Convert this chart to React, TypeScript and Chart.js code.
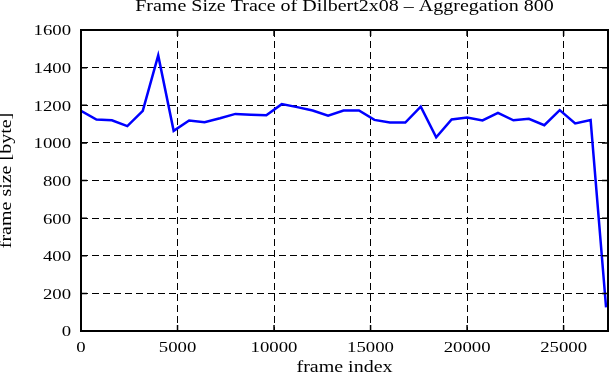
import React, { useEffect, useRef } from "react";
import { Chart, registerables } from "chart.js";

Chart.register(...registerables);

const TITLE = "Frame Size Trace of Dilbert2x08 – Aggregation 800";
const X_TITLE = "frame index";
const Y_TITLE = "frame size [byte]";

const frameIndex = [
  0, 800, 1600, 2400, 3200, 4000, 4800, 5600, 6400, 7200, 8000, 8800, 9600,
  10400, 11200, 12000, 12800, 13600, 14400, 15200, 16000, 16800, 17600, 18400,
  19200, 20000, 20800, 21600, 22400, 23200, 24000, 24800, 25600, 26400, 27200,
];
const frameSize = [
  1170, 1124, 1120, 1089, 1170, 1465, 1064, 1119, 1110, 1131, 1154, 1150, 1147,
  1206, 1190, 1172, 1144, 1172, 1172, 1122, 1108, 1108, 1193, 1030,
  1124, 1135, 1119, 1160, 1120, 1128, 1094, 1174, 1103, 1121, 126,
];
const xTicks = [0, 5000, 10000, 15000, 20000, 25000];
const yTicks = [0, 200, 400, 600, 800, 1000, 1200, 1400, 1600];
const X_MAX = 27300;

const FONT = "'Liberation Serif', 'Times New Roman', serif";
const SX = 1.25;

const framePlugin = {
  id: "frameTicks",
  afterDraw(chart: any) {
    const { ctx, chartArea: a, scales } = chart;
    const xs = scales.x;
    const ys = scales.y;
    const L = 6;
    ctx.save();
    ctx.setLineDash([]);
    ctx.strokeStyle = "#000";
    ctx.lineWidth = 1.5;
    ctx.beginPath();
    xs.ticks.forEach((t: any) => {
      const px = xs.getPixelForValue(t.value);
      ctx.moveTo(px, a.bottom);
      ctx.lineTo(px, a.bottom - L);
      ctx.moveTo(px, a.top);
      ctx.lineTo(px, a.top + L);
    });
    ys.ticks.forEach((t: any) => {
      const py = ys.getPixelForValue(t.value);
      ctx.moveTo(a.left, py);
      ctx.lineTo(a.left + L, py);
      ctx.moveTo(a.right, py);
      ctx.lineTo(a.right - L, py);
    });
    ctx.stroke();
    ctx.lineWidth = 2;
    ctx.strokeRect(a.left, a.top, a.right - a.left, a.bottom - a.top);
    ctx.restore();
  },
};

export default function App() {
  const ref = useRef<HTMLCanvasElement>(null);
  useEffect(() => {
    document.body.style.margin = "0";
    const canvas = ref.current!;
    const ctx: any = canvas.getContext("2d");
    const orig = ctx.fillText;
    ctx.fillText = function (text: string, x: number, y: number, maxWidth?: number) {
      this.save();
      this.translate(x, y);
      this.scale(SX, 1);
      if (maxWidth === undefined) orig.call(this, text, 0, 0);
      else orig.call(this, text, 0, 0, maxWidth / SX);
      this.restore();
    };
    Chart.defaults.color = "#000";
    const chart = new Chart(canvas, {
      type: "line",
      data: {
        datasets: [
          {
            data: frameIndex.map((x, i) => ({ x, y: frameSize[i] })),
            borderColor: "#0000ff",
            borderWidth: 2.5,
            pointRadius: 0,
            tension: 0,
            fill: false,
          },
        ],
      },
      options: {
        animation: false,
        responsive: false,
        devicePixelRatio: 1,
        layout: { padding: { left: 0, right: 3, top: 0, bottom: 0 } },
        plugins: {
          legend: { display: false },
          tooltip: { enabled: false },
          title: {
            display: true,
            text: TITLE,
            color: "#000",
            fullSize: false,
            font: { family: FONT, size: 16, weight: "normal", lineHeight: 14 / 16 },
            padding: { top: 0, bottom: 16 },
          },
        },
        scales: {
          x: {
            type: "linear",
            min: 0,
            max: X_MAX,
            afterBuildTicks: (s: any) => {
              s.ticks = xTicks.map((v) => ({ value: v }));
            },
            afterFit: (s: any) => {
              s.height = 49;
            },
            grid: { color: "#000", lineWidth: 1, drawTicks: false },
            border: { display: false, dash: [7, 4] },
            ticks: {
              color: "#000",
              padding: 8,
              maxRotation: 0,
              autoSkip: false,
              font: { family: FONT, size: 15 },
              callback: (v: any) => String(v),
            },
            title: {
              display: true,
              text: X_TITLE,
              color: "#000",
              font: { family: FONT, size: 16, lineHeight: 1.2 },
              padding: { top: 0, bottom: 2.5 },
            },
          },
          y: {
            type: "linear",
            min: 0,
            max: 1600,
            afterBuildTicks: (s: any) => {
              s.ticks = yTicks.map((v) => ({ value: v }));
            },
            afterFit: (s: any) => {
              s.width = 81;
            },
            grid: { color: "#000", lineWidth: 1, drawTicks: false },
            border: { display: false, dash: [7, 4] },
            ticks: {
              color: "#000",
              padding: 10,
              labelOffset: 1.5,
              autoSkip: false,
              font: { family: FONT, size: 15 },
              callback: (v: any) => String(v),
            },
            title: {
              display: true,
              text: Y_TITLE,
              color: "#000",
              font: { family: FONT, size: 16, lineHeight: 13 / 16 },
              padding: { top: 0, bottom: 0 },
            },
          },
        },
      },
      plugins: [framePlugin],
    } as any);
    return () => {
      chart.destroy();
      ctx.fillText = orig;
    };
  }, []);
  return (
    <div style={{ width: 611, height: 380 }}>
      <canvas ref={ref} width={611} height={380} style={{ display: "block" }} />
    </div>
  );
}
